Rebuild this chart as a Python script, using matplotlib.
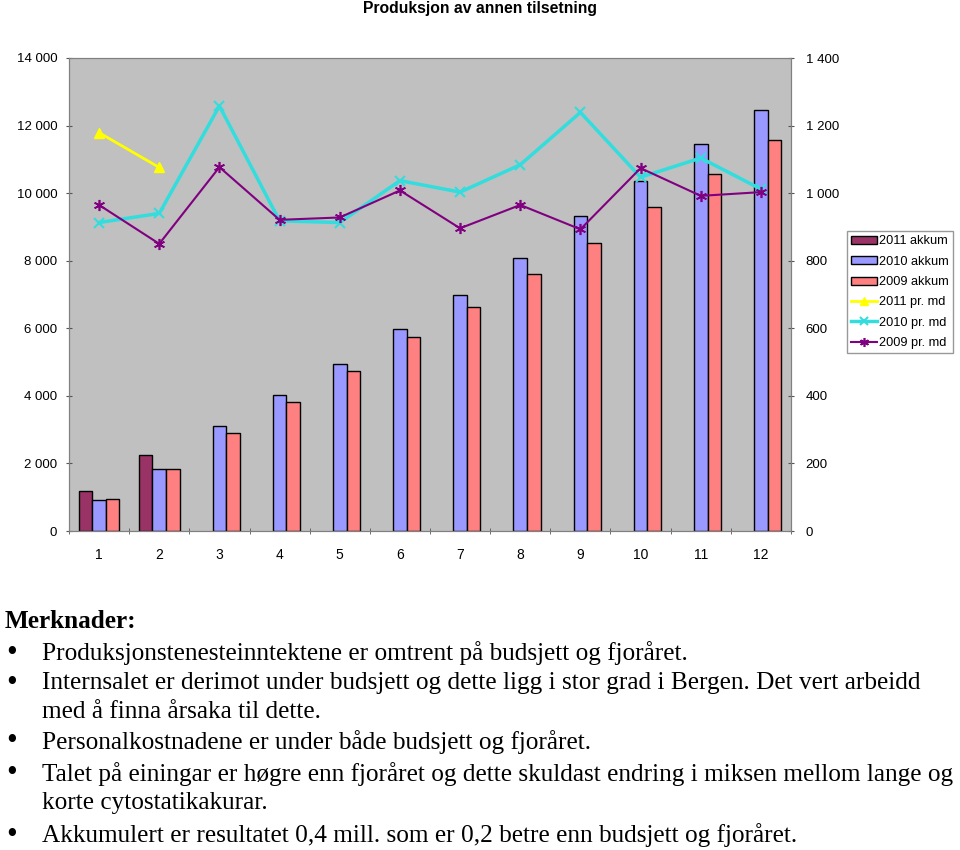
import matplotlib.pyplot as plt
import matplotlib.ticker as mticker
import numpy as np

# Data
months = [1, 2, 3, 4, 5, 6, 7, 8, 9, 10, 11, 12]
akkum_2011 = [1185, 2260]
akkum_2010 = [918, 1845, 3108, 4026, 4943, 5969, 6985, 8070, 9313, 10349, 11454, 12471]
akkum_2009 = [957, 1825, 2891, 3808, 4746, 5742, 6640, 7616, 8514, 9580, 10566, 11583]
prmd_2011 = [1179, 1076]
prmd_2010 = [913, 940, 1258, 918, 913, 1037, 1003, 1084, 1239, 1047, 1104, 1012]
prmd_2009 = [965, 850, 1077, 921, 928, 1008, 896, 965, 893, 1074, 992, 1003]

title = "Produksjon av annen tilsetning"
notes_head = "Merknader:"
notes = [
    ("Produksjonstenesteinntektene er omtrent på budsjett og fjoråret.", True),
    ("Internsalet er derimot under budsjett og dette ligg i stor grad i Bergen. Det vert arbeidd", True),
    ("med å finna årsaka til dette.", False),
    ("Personalkostnadene er under både budsjett og fjoråret.", True),
    ("Talet på einingar er høgre enn fjoråret og dette skuldast endring i miksen mellom lange og", True),
    ("korte cytostatikakurar.", False),
    ("Akkumulert er resultatet 0,4 mill. som er 0,2 betre enn budsjett og fjoråret.", True),
]

W, H = 960, 850
fig = plt.figure(figsize=(W / 100, H / 100), dpi=100)
plt.rcParams['font.family'] = ['Liberation Sans', 'DejaVu Sans']

ax = fig.add_axes([69 / W, 1 - 531 / H, (791 - 69) / W, (531 - 58) / H])
ax.set_facecolor('#C0C0C0')

x = np.array(months)
bw = 0.225
ax.bar(x[:len(akkum_2011)] - bw, akkum_2011, bw, color='#993366', edgecolor='black', linewidth=1, label='2011 akkum', zorder=2)
ax.bar(x, akkum_2010, bw, color='#9999FF', edgecolor='black', linewidth=1, label='2010 akkum', zorder=2)
ax.bar(x + bw, akkum_2009, bw, color='#FF8080', edgecolor='black', linewidth=1, label='2009 akkum', zorder=2)

ax.set_xlim(0.5, 12.5)
ax.set_ylim(0, 14000)
ax.set_yticks(range(0, 14001, 2000))
fmt = mticker.FuncFormatter(lambda v, p: f"{int(v):,}".replace(",", " "))
ax.yaxis.set_major_formatter(fmt)
ax.set_xticks(months)
ax.set_xticks(np.arange(0.5, 12.6, 1), minor=True)
ax.tick_params(axis='x', which='major', length=0, pad=12, labelsize=10)
ax.tick_params(axis='x', which='minor', length=5, direction='inout', color='#555555')
ax.tick_params(axis='y', length=5, direction='inout', labelsize=9.5, pad=6, color='#555555')
for s in ax.spines.values():
    s.set_color('#808080')

ax2 = ax.twinx()
ax2.set_ylim(0, 1400)
ax2.set_yticks(range(0, 1401, 200))
ax2.yaxis.set_major_formatter(fmt)
ax2.tick_params(axis='y', length=5, direction='inout', labelsize=9.5, pad=8, color='#555555')
for s in ax2.spines.values():
    s.set_color('#808080')

ax2.plot(x[:len(prmd_2011)], prmd_2011, color='#FFFF00', lw=2, marker='^', ms=7, label='2011 pr. md')
ax2.plot(x, prmd_2010, color='#33DDDD', lw=2.5, marker='x', ms=7, mew=1.5, label='2010 pr. md')
ax2.plot(x, prmd_2009, color='#800080', lw=1.5, marker=(6, 2, 0), ms=8, mew=1.2, label='2009 pr. md')

h1, l1 = ax.get_legend_handles_labels()
h2, l2 = ax2.get_legend_handles_labels()
leg = fig.legend(h1 + h2, l1 + l2, loc='upper left',
                 bbox_to_anchor=(847 / W, 1 - 231 / H), fontsize=9.2,
                 frameon=True, fancybox=False, edgecolor='#808080',
                 handlelength=2.0, handleheight=0.6, labelspacing=0.65,
                 borderpad=0.35, handletextpad=0.15, borderaxespad=0,
                 markerscale=0.8)

fig.text(0.5, 1 - 9 / H, title, ha='center', va='center', fontsize=11.3, fontweight='bold')

serif = ['Liberation Serif', 'DejaVu Serif']
fig.text(5 / W, 1 - 621 / H, notes_head, ha='left', va='center', fontsize=18.2,
         fontweight='bold', family=serif)
ys = [653, 683, 712, 742, 774, 803, 835]
for (txt, bullet), yp in zip(notes, ys):
    if bullet:
        fig.text(12 / W, 1 - yp / H, "\u2022", ha='center', va='center', fontsize=22, family=serif)
    fig.text(42 / W, 1 - yp / H, txt, ha='left', va='center', fontsize=18.2, family=serif)

plt.savefig('out.png', dpi=100)
plt.close()
